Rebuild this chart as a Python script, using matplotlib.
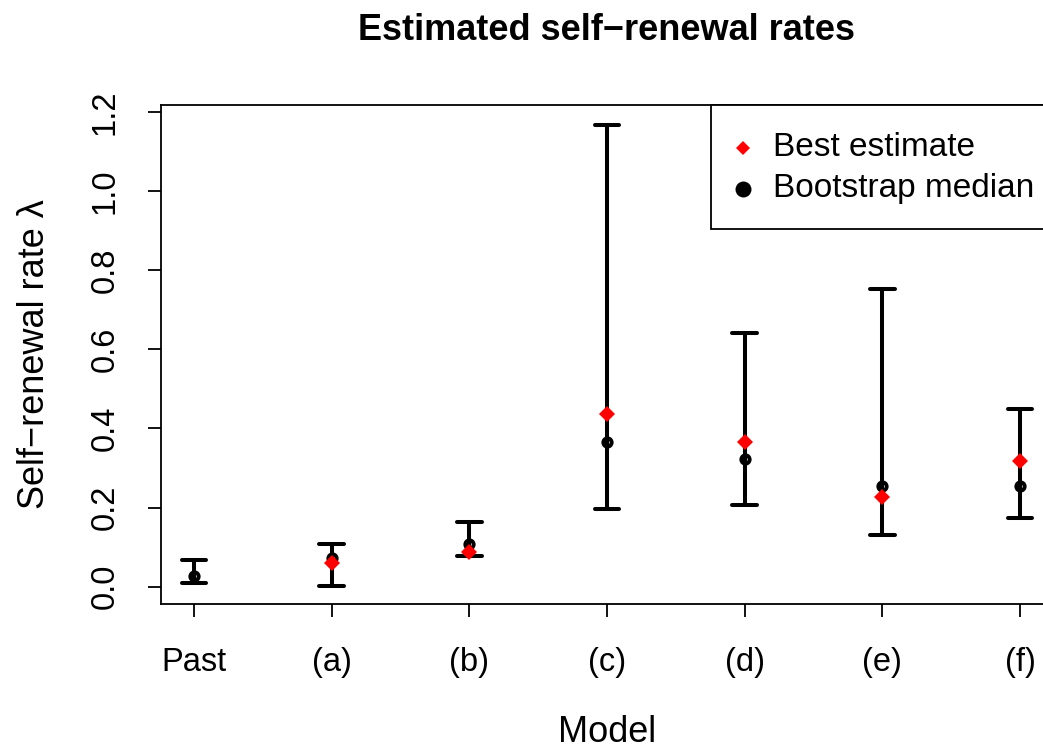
import matplotlib
matplotlib.use("Agg")
import matplotlib.pyplot as plt
from matplotlib.lines import Line2D
from matplotlib.patches import Rectangle

plt.rcParams['font.family'] = ['Liberation Sans', 'DejaVu Sans']

models = ["Past", "(a)", "(b)", "(c)", "(d)", "(e)", "(f)"]
upper = [0.068, 0.108, 0.163, 1.167, 0.642, 0.753, 0.449]
lower = [0.010, 0.003, 0.078, 0.196, 0.206, 0.132, 0.174]
median = [0.028, 0.074, 0.108, 0.366, 0.323, 0.254, 0.255]
best_models = ["(a)", "(b)", "(c)", "(d)", "(e)", "(f)"]
best = [0.060, 0.088, 0.436, 0.365, 0.227, 0.319]
yticks = [0.0, 0.2, 0.4, 0.6, 0.8, 1.0, 1.2]
legend_labels = ["Best estimate", "Bootstrap median"]

W, H = 1043, 749
fig = plt.figure(figsize=(W/100, H/100), dpi=100)
ax = fig.add_axes([161/W, 1-604/H, (1053-161)/W, (604-105)/H])

xs = list(range(1, len(models)+1))
xb = [models.index(m)+1 for m in best_models]
cap = 0.09
lw = 2.9
for x, lo, hi in zip(xs, lower, upper):
    ax.plot([x, x], [lo, hi], color='black', lw=lw, solid_capstyle='butt', zorder=2)
    ax.plot([x-cap, x+cap], [hi, hi], color='black', lw=lw, solid_capstyle='round', zorder=2)
    ax.plot([x-cap, x+cap], [lo, lo], color='black', lw=lw, solid_capstyle='round', zorder=2)

ax.plot(xs, median, linestyle='none', marker='o', markersize=6.0, markerfacecolor='none',
        markeredgecolor='black', markeredgewidth=2.8, zorder=3)
ax.plot(xb, best, linestyle='none', marker='D', markersize=8.3, color='red',
        markeredgewidth=0, zorder=4)

ax.set_xlim(0.76, 7.24)
ax.set_ylim(-0.0435, 1.2175)
ax.set_xticks(xs)
ax.set_xticklabels(models, fontsize=23.5)
ax.set_yticks(yticks)
ax.set_yticklabels([f"{v:.1f}" for v in yticks], fontsize=23.5, rotation=90)
for lab in ax.get_xticklabels():
    lab.set_va('center')
for lab in ax.get_yticklabels():
    lab.set_ha('center')
    lab.set_va('center')
tick_len = 9.4
ax.tick_params(axis='both', direction='out', length=tick_len, width=1.3)
ax.tick_params(axis='x', pad=45*0.72)
ax.tick_params(axis='y', pad=43*0.72)
for s in ax.spines.values():
    s.set_linewidth(1.3)

ax.set_xlabel("Model", fontsize=26)
ax.xaxis.set_label_coords(0.5, (604-733)/499)
ax.xaxis.label.set_va('center')
ax.set_ylabel("Self\u2212renewal rate \u03bb", fontsize=26)
ax.yaxis.set_label_coords((35-161)/892, 0.5)
ax.yaxis.label.set_va('center')
ax.yaxis.label.set_ha('center')

fig.text(607/W, 1-31/H, "Estimated self\u2212renewal rates", fontsize=26,
         fontweight='bold', ha='center', va='center')

# legend box (R style), drawn in figure pixel fractions
fig.patches.append(Rectangle((711/W, 1-229/H), (1060-711)/W, (229-105)/H,
                             transform=fig.transFigure, facecolor='white',
                             edgecolor='black', linewidth=1.3, zorder=5))
leg_rows = [148, 189]
fig.lines.append(Line2D([743/W], [1-leg_rows[0]/H], transform=fig.transFigure,
                        linestyle='none', marker='D', color='red', markersize=6.8,
                        markeredgewidth=0, zorder=6))
fig.lines.append(Line2D([743/W], [1-leg_rows[1]/H], transform=fig.transFigure,
                        linestyle='none', marker='o', color='black', markersize=11.5,
                        markeredgewidth=0, zorder=6))
for lab, yy in zip(legend_labels, leg_rows):
    fig.text(773/W, 1-yy/H, lab, fontsize=24, ha='left', va='center', zorder=7)

fig.savefig("out.png", dpi=100)
